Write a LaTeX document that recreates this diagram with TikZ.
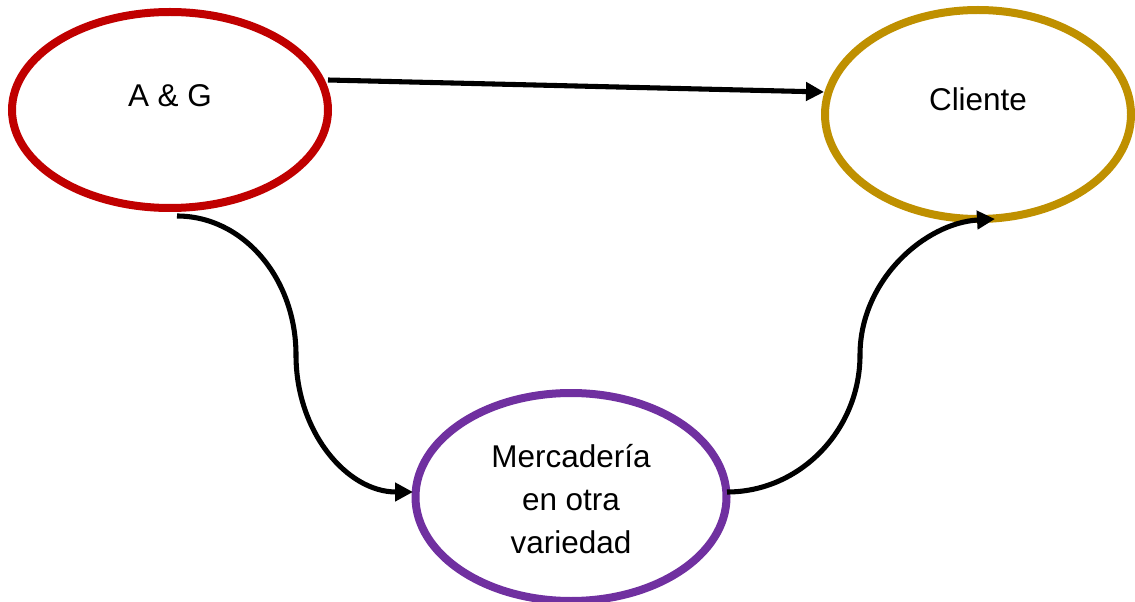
\documentclass[tikz,border=0pt]{standalone}
\usepackage{fontspec}
\setmainfont{Liberation Sans}
\usetikzlibrary{shapes.geometric,arrows.meta,calc}
\definecolor{agred}{HTML}{C00000}
\definecolor{clgold}{HTML}{BF9000}
\definecolor{mepurple}{HTML}{7030A0}
\tikzset{
  oval/.style={ellipse, draw, line width=6pt, inner sep=0pt, fill=white},
  txt/.style={font=\fontsize{23.6}{32}\selectfont, align=center, inner sep=0pt},
  conn/.style={line width=3.8pt, -{Triangle[length=13.5pt,width=13.5pt]}}
}
\begin{document}
\begin{tikzpicture}[x=0.75pt,y=-0.75pt]
\useasboundingbox (0,0) rectangle (1135,602);
\node[oval, draw=agred, minimum width=237pt, minimum height=147pt] (ag) at (170,110) {};
\node[oval, draw=clgold, minimum width=229.5pt, minimum height=156.75pt] (cl) at (978,114.5) {};
\node[oval, draw=mepurple, minimum width=233.25pt, minimum height=156pt] (me) at (571,497) {};
\node[txt] (agt) at ($(ag)+(0,-14)$) {A \& G};
\node[txt] (clt) at ($(cl)+(0,-15)$) {Cliente};
\node[txt] (met) at ($(me)+(0,2)$) {Mercadería\\en otra\\variedad};
\coordinate (s0) at ($(ag.east)+(-4,-30)$);
\coordinate (e0) at ($(cl.west)+(3,-22.5)$);
\draw[conn] (s0) -- (e0);
\coordinate (s1) at ($(ag.south)+(7,4)$);
\coordinate (m1) at (296,355);
\coordinate (e1) at ($(me.west)+(1.5,-5)$);
\draw[conn] (s1) .. controls +(66,0) and +(0,-77) .. (m1) .. controls +(0,77) and +(-66,0) .. (e1);
\coordinate (s2) at ($(me.east)+(-3.5,-5)$);
\coordinate (m2) at (860,355);
\coordinate (e2) at ($(cl.south)+(17,-4)$);
\draw[conn] (s2) .. controls +(73,0) and +(0,75) .. (m2) .. controls +(0,-75) and +(-70,4) .. (e2);
\end{tikzpicture}
\end{document}
